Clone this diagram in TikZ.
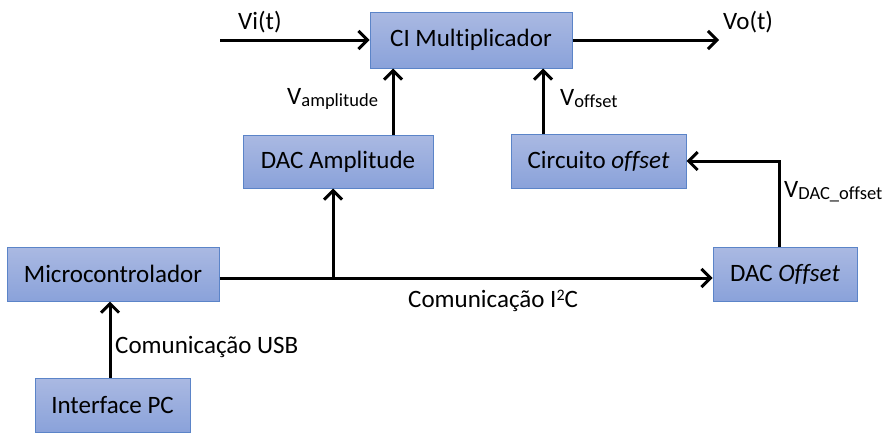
\documentclass[tikz,border=0pt]{standalone}
\usepackage{fontspec}
\setmainfont[Ligatures={NoCommon,NoRequired,NoContextual}]{Carlito}
\usetikzlibrary{arrows.meta}
\definecolor{boxtop}{HTML}{AAB9E2}
\definecolor{boxbot}{HTML}{8AA2DA}
\definecolor{boxline}{HTML}{5B84C8}
\tikzset{
  blk/.style={draw=boxline, line width=1pt, top color=boxtop, bottom color=boxbot, minimum width=#1, minimum height=54pt, inner sep=0pt, font=\fontsize{25}{30}\selectfont},
  con/.style={line width=3pt, -{Straight Barb[length=9pt,width=18pt,line width=3pt]}},
  lnk/.style={line width=3pt},
  lbl/.style={font=\fontsize{25}{30}\selectfont, inner sep=0pt}
}
\newcommand{\subtx}[1]{\raisebox{-0.2ex}{\fontsize{18.5}{22}\selectfont #1}}
\begin{document}
\begin{tikzpicture}[x=1pt,y=-1pt]
\useasboundingbox (0,0) rectangle (888,434);
\node[blk=202pt, minimum height=56pt] (ci) at (471,40) {CI Multiplicador};
\node[blk=190pt, minimum height=53pt] (dacA) at (338,161.5) {DAC Amplitude};
\node[blk=175pt] (circ) at (598.5,161) {Circuito \textit{offset}};
\node[blk=144pt] (dacO) at (785,274) {DAC \textit{Offset}};
\node[blk=212pt] (mc) at (113,274) {Microcontrolador};
\node[blk=155pt] (pc) at (112.5,405) {Interface PC};

\coordinate (vi) at (220,40);
\coordinate (vo) at (719,40);
\coordinate (jn) at (333,278);
\coordinate (bend) at (779,161);

\draw[con] (vi) -- (ci.west);
\draw[con] (ci.east) -- (vo);
\draw[con] (dacA.north -| 393,0) -- (ci.south -| 393,0);
\draw[con] (circ.north -| 543,0) -- (ci.south -| 543,0);
\draw[con] (dacO.north -| bend) -- (bend) -- (circ.east |- bend);
\draw[con] (mc.east |- jn) -- (dacO.west |- jn);
\draw[con] (jn) -- (dacA.south -| jn);
\draw[con] (pc.north -| 110,0) -- (mc.south -| 110,0);

\node[lbl, anchor=base west] (lvi) at (238,29) {Vi(t)};
\node[lbl, anchor=base west] (lvo) at (723,29) {Vo(t)};
\node[lbl, anchor=base west] (lva) at (287,104) {V\subtx{amplitude}};
\node[lbl, anchor=base west] (lvf) at (560,105) {V\subtx{offset}};
\node[lbl, anchor=base west] (lvd) at (784,197) {V\subtx{DAC\_offset}};
\node[lbl, anchor=base west] (li2c) at (408,307) {Comunicação I\raisebox{0.55ex}{\fontsize{16}{18}\selectfont 2}C};
\node[lbl, anchor=base west] (lusb) at (115,353) {Comunicação USB};
\end{tikzpicture}
\end{document}
